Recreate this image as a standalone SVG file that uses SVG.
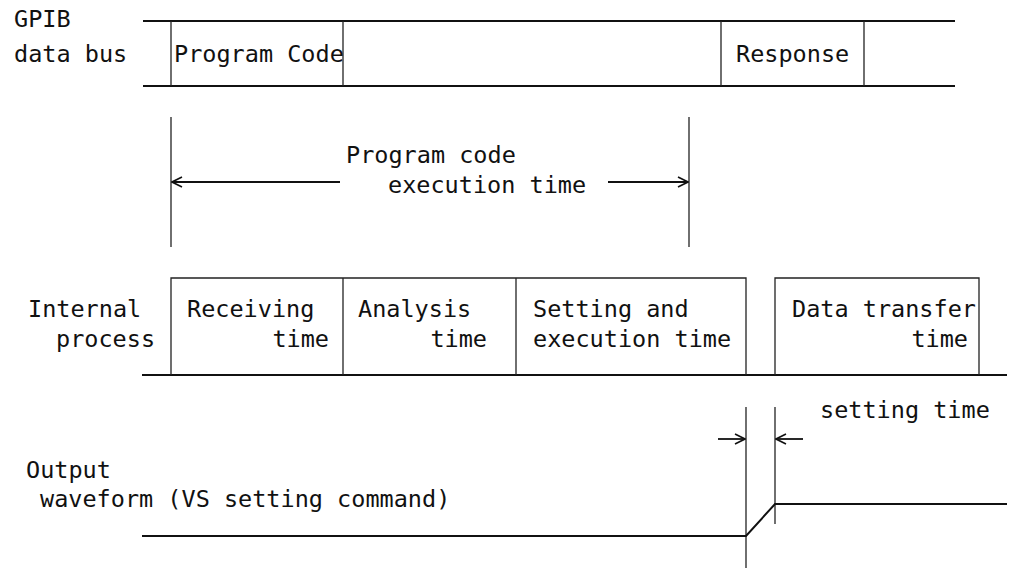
<svg xmlns="http://www.w3.org/2000/svg" width="1012" height="568" viewBox="0 0 1012 568">
<defs>
<style>
text{font-family:"DejaVu Sans Mono","Liberation Mono",monospace;font-size:23.5px;fill:#111}
.ln{stroke:#111;stroke-width:2;fill:none}
.dv{stroke:#222;stroke-width:1.3;fill:none}
.ar{stroke:#111;stroke-width:1.8;fill:none}
.end{text-anchor:end}
</style>
<marker id="ah" viewBox="0 0 12 12" refX="11" refY="6" markerWidth="12" markerHeight="12" markerUnits="userSpaceOnUse" orient="auto-start-reverse">
<path d="M1,1 L11,6 L1,11" fill="none" stroke="#111" stroke-width="1.6"/>
</marker>
</defs>
<rect width="1012" height="568" fill="#fff"/>

<g id="labels">
<text x="14" y="27">GPIB</text>
<text x="14" y="62">data bus</text>
<text x="28" y="317">Internal</text>
<text x="56" y="347">process</text>
<text x="26" y="478">Output</text>
<text x="40" y="507">waveform (VS setting command)</text>
</g>

<g id="bus">
<line class="ln" x1="143" y1="21" x2="955" y2="21"/>
<line class="ln" x1="143" y1="86" x2="955" y2="86"/>
<line class="dv" x1="171" y1="21" x2="171" y2="86"/>
<line class="dv" x1="343" y1="21" x2="343" y2="86"/>
<line class="dv" x1="721" y1="21" x2="721" y2="86"/>
<line class="dv" x1="864" y1="21" x2="864" y2="86"/>
</g>
<g id="program-code"><text x="174" y="62">Program Code</text></g>
<g id="response"><text x="736" y="62">Response</text></g>

<g id="exec-time">
<line class="dv" x1="171" y1="117" x2="171" y2="247"/>
<line class="dv" x1="689" y1="117" x2="689" y2="247"/>
<text x="346" y="163">Program code</text>
<text x="388" y="193">execution time</text>
</g>

<g id="internal">
<line class="ln" x1="142" y1="375" x2="1007" y2="375"/>
<polyline class="dv" points="171,375 171,278 746,278 746,375"/>
<line class="dv" x1="343" y1="278" x2="343" y2="375"/>
<line class="dv" x1="516" y1="278" x2="516" y2="375"/>
</g>
<g id="receiving"><text x="187" y="317">Receiving</text><text class="end" x="329" y="347">time</text></g>
<g id="analysis"><text x="358" y="317">Analysis</text><text class="end" x="487" y="347">time</text></g>
<g id="setting"><text x="533" y="317">Setting and</text><text x="533" y="347">execution time</text></g>
<g id="data-transfer">
<polyline class="dv" points="775,375 775,278 979,278 979,375"/>
<text x="792" y="317">Data transfer</text><text class="end" x="968" y="347">time</text>
</g>

<g id="waveform">
<line class="dv" x1="746" y1="407" x2="746" y2="568"/>
<line class="dv" x1="775" y1="407" x2="775" y2="524"/>
<polyline class="ln" points="142,536 746,536 775,504 1007,504"/>
<text x="820" y="418">setting time</text>
</g>

<g id="connectors">
<line class="ar" x1="340" y1="182" x2="172" y2="182" marker-end="url(#ah)"/>
<line class="ar" x1="608" y1="182" x2="688" y2="182" marker-end="url(#ah)"/>
<line class="ar" x1="718" y1="439" x2="745" y2="439" marker-end="url(#ah)"/>
<line class="ar" x1="803" y1="439" x2="776" y2="439" marker-end="url(#ah)"/>
</g>
</svg>
